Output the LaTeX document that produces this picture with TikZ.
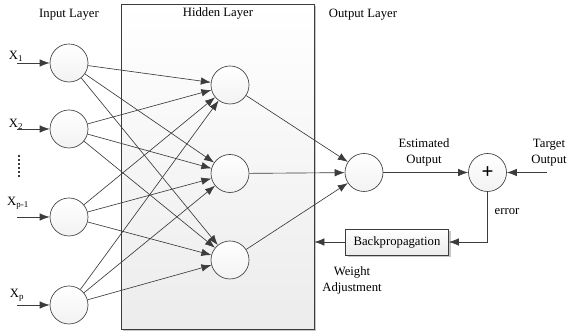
\documentclass[tikz,border=0pt]{standalone}
\usepackage{fontspec}
\setmainfont{Liberation Serif}
\usetikzlibrary{arrows.meta,shadows}
\definecolor{linegray}{RGB}{60,60,60}

\begin{document}
\begin{tikzpicture}[x=1pt, y=1pt, line width=0.65pt,
  font=\fontsize{12.7}{16}\selectfont,
  neuron/.style={circle, draw=linegray, top color=white, bottom color=gray!10, minimum size=38pt, inner sep=0pt},
  panel/.style={draw=linegray, top color=white, bottom color=gray!15, inner sep=0pt,
    drop shadow={shadow xshift=2pt, shadow yshift=-2pt, fill=gray!45, opacity=1}},
  conn/.style={draw=linegray, -{Latex[length=10pt,width=7.5pt]}}]
  \useasboundingbox (0,0) rectangle (569,336);

  % Hidden layer panel
  \node[panel, minimum width=193pt, minimum height=325pt] (hbox) at (217.5,169.5) {};

  % Layer titles
  \node (tin) at (69,321) {Input Layer};
  \node (thid) at (218,323) {Hidden Layer};
  \node (tout) at (363,321) {Output Layer};

  % Nodes
  \node[neuron] (in1) at (69,273) {};
  \node[neuron] (in2) at (69,207) {};
  \node[neuron] (in3) at (69,119) {};
  \node[neuron] (in4) at (69,31) {};
  \node[neuron] (hid1) at (230,251) {};
  \node[neuron] (hid2) at (230,162.5) {};
  \node[neuron] (hid3) at (230,76) {};
  \node[neuron] (out) at (364,163.5) {};
  \node[neuron, font=\fontsize{21}{21}\selectfont\bfseries] (plus) at (487.5,163.5) {+};
  \node[panel, minimum width=103pt, minimum height=26pt] (bp) at (397,94) {Backpropagation};

  % Inputs
  \node (lx1) at (16,280) {X\textsubscript{1}};
  \node (lx2) at (16,212) {X\textsubscript{2}};
  \node (lx3) at (18,133) {X\textsubscript{p-1}};
  \node (lx4) at (17,41) {X\textsubscript{p}};
  \coordinate (x1) at (17,273);
  \coordinate (x2) at (17,207);
  \coordinate (x3) at (17,119);
  \coordinate (x4) at (17,31);
  \foreach \i in {1,...,4}
    \draw[conn] (x\i) -- (in\i);
  \draw[linegray, line width=2.2pt, dash pattern=on 2pt off 2pt] (19,181) -- (19,158);

  % Edges
  \foreach \i in {1,...,4}
    \foreach \j in {1,2,3}
      \draw[conn] (in\i) -- (hid\j);
  \foreach \j in {1,2,3}
    \draw[conn] (hid\j) -- (out);
  \draw[conn] (out) -- (plus);
  \coordinate (target) at (547,163.5);
  \draw[conn] (target) -- (plus);
  \draw[conn] (plus.south) |- (bp.east);
  \draw[conn] (bp.west) -- (bp.west -| hbox.east);

  % Labels
  \node[align=center] (lest) at (424,183.5) {Estimated\\Output};
  \node[align=center] (ltgt) at (549,183.5) {Target\\Output};
  \node (lerr) at (507,124) {error};
  \node[align=center] (lwa) at (352,56) {Weight\\Adjustment};
\end{tikzpicture}
\end{document}
